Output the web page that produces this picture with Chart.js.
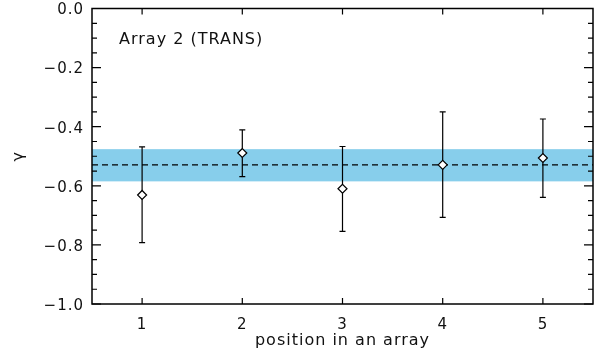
<!DOCTYPE html>
<html>
<head>
<meta charset="utf-8">
<script src="https://cdn.jsdelivr.net/npm/chart.js@4/dist/chart.umd.min.js"></script>
<style>
  html, body { margin: 0; padding: 0; background: #fff; }
  #wrap { width: 596px; height: 364px; }
</style>
</head>
<body>
<div id="wrap"><canvas id="c" width="596" height="364"></canvas></div>
<script>
// ==================== DATA ====================
const positions = [1, 2, 3, 4, 5];
const gammaValues = [-0.631, -0.489, -0.610, -0.529, -0.506];
const errUpper = [-0.468, -0.411, -0.467, -0.350, -0.374];
const errLower = [-0.792, -0.569, -0.754, -0.707, -0.639];
const bandLow = -0.585, bandHigh = -0.476, meanGamma = -0.529;
const xTicks = [1, 2, 3, 4, 5];
const yTicks = [0.0, -0.2, -0.4, -0.6, -0.8, -1.0];
const panelLabel = "Array 2 (TRANS)";

const FONT = "'DejaVu Sans', sans-serif";
const SPACING = "1px";
const PLOT_RIGHT = 593;

// ==================== PLUGIN: band, error bars, frame, ticks ====================
const decor = {
  id: "decor",
  beforeLayout(chart) { chart.ctx.letterSpacing = SPACING; },
  afterLayout(chart) {
    // stretch the plot area to the right edge (Chart.js keeps a few px for the last label)
    const x = chart.scales.x;
    chart.chartArea.right = PLOT_RIGHT;
    chart.chartArea.width = PLOT_RIGHT - chart.chartArea.left;
    x.right = PLOT_RIGHT;
    x.width = x.right - x.left;
    x.configure();
  },
  beforeDraw(chart) { chart.ctx.letterSpacing = SPACING; },
  beforeDatasetsDraw(chart) {
    const { ctx, chartArea: a, scales: { x, y } } = chart;
    ctx.save();
    // blue band
    const yt = y.getPixelForValue(bandHigh), yb = y.getPixelForValue(bandLow);
    ctx.fillStyle = "#87ceeb";
    ctx.fillRect(a.left, yt, a.right - a.left, yb - yt);
    // dashed mean line
    const ym = y.getPixelForValue(meanGamma);
    ctx.strokeStyle = "#000";
    ctx.lineWidth = 1.2;
    ctx.setLineDash([6, 4]);
    ctx.beginPath();
    ctx.moveTo(a.left, ym); ctx.lineTo(a.right, ym);
    ctx.stroke();
    ctx.setLineDash([]);
    // error bars
    ctx.lineWidth = 1.2;
    positions.forEach((p, i) => {
      const px = x.getPixelForValue(p);
      const y1 = y.getPixelForValue(errUpper[i]);
      const y2 = y.getPixelForValue(errLower[i]);
      ctx.beginPath();
      ctx.moveTo(px, y1); ctx.lineTo(px, y2);
      ctx.moveTo(px - 3, y1); ctx.lineTo(px + 3, y1);
      ctx.moveTo(px - 3, y2); ctx.lineTo(px + 3, y2);
      ctx.stroke();
    });
    ctx.restore();
  },
  afterDraw(chart) {
    const { ctx, chartArea: a, scales: { x, y } } = chart;
    ctx.save();
    ctx.strokeStyle = "#000";
    ctx.lineWidth = 1.5;
    ctx.strokeRect(a.left, a.top, a.right - a.left, a.bottom - a.top);
    ctx.lineWidth = 1.2;
    ctx.beginPath();
    // x ticks (bottom and top)
    xTicks.forEach(v => {
      const px = x.getPixelForValue(v);
      ctx.moveTo(px, a.bottom); ctx.lineTo(px, a.bottom - 6);
      ctx.moveTo(px, a.top); ctx.lineTo(px, a.top + 6);
    });
    // y ticks, major every 0.2, minor every 0.05 (left and right)
    for (let k = 0; k <= 20; k++) {
      const v = -k * 0.05;
      const py = y.getPixelForValue(v);
      const len = (k % 4 === 0) ? 9 : 5;
      ctx.moveTo(a.left, py); ctx.lineTo(a.left + len, py);
      ctx.moveTo(a.right, py); ctx.lineTo(a.right - len, py);
    }
    ctx.stroke();
    // panel label
    ctx.fillStyle = "#111";
    ctx.font = "16px " + FONT;
    ctx.textBaseline = "middle";
    ctx.fillText(panelLabel, 119, 40);
    ctx.restore();
  }
};

// ==================== CHART ====================
new Chart(document.getElementById("c"), {
  type: "scatter",
  data: {
    datasets: [{
      data: positions.map((p, i) => ({ x: p, y: gammaValues[i] })),
      pointStyle: "rectRot",
      pointRadius: 4.5,
      pointBackgroundColor: "#fff",
      pointBorderColor: "#000",
      pointBorderWidth: 1.2
    }]
  },
  options: {
    responsive: false,
    animation: false,
    layout: { padding: { top: 8.5, right: 0, left: 0, bottom: 0 } },
    plugins: { legend: { display: false }, tooltip: { enabled: false } },
    scales: {
      x: {
        type: "linear", min: 0.5, max: 5.5,
        afterBuildTicks: s => { s.ticks = xTicks.map(v => ({ value: v })); },
        afterFit: s => { s.height = 60; s.paddingLeft = 0; s.paddingRight = 0; },
        grid: { display: false, drawTicks: false },
        border: { display: false },
        ticks: { padding: 12, color: "#111", font: { family: FONT, size: 15 } },
        title: { display: true, text: "position in an array", color: "#111",
                 font: { family: FONT, size: 16 }, padding: { top: 0, bottom: 14 } }
      },
      y: {
        min: -1.0, max: 0.0,
        afterBuildTicks: s => { s.ticks = yTicks.map(v => ({ value: v })); },
        afterFit: s => { s.width = 92; s.paddingTop = 0; s.paddingBottom = 0; },
        grid: { display: false, drawTicks: false },
        border: { display: false },
        ticks: {
          padding: 8, labelOffset: 2, color: "#111", font: { family: FONT, size: 15 },
          callback: v => (v < 0 ? "\u2212" : "") + Math.abs(v).toFixed(1)
        },
        title: { display: true, text: "\u03b3", color: "#111",
                 font: { family: FONT, size: 16 }, padding: { top: 9, bottom: 0 } }
      }
    }
  },
  plugins: [decor]
});
</script>
</body>
</html>
